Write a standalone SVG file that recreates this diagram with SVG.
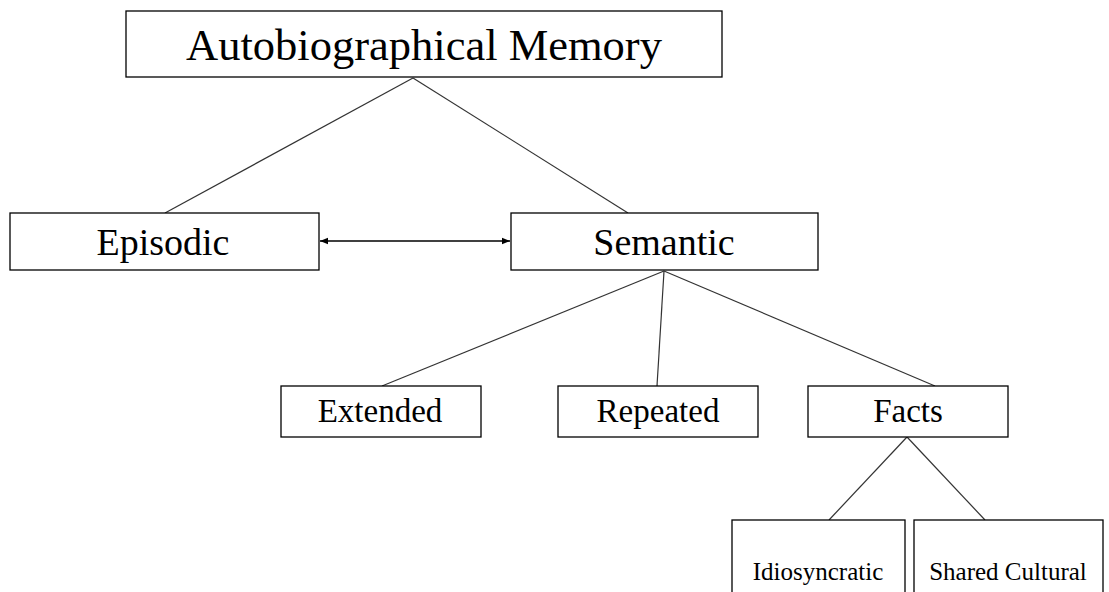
<svg xmlns="http://www.w3.org/2000/svg" width="1109" height="592" viewBox="0 0 1109 592">
<style>
.box{fill:#fff;stroke:#000;stroke-width:1.3}
.t{font-family:"Liberation Serif","Times New Roman",serif;fill:#000;text-anchor:middle}
.ln{stroke:#333;stroke-width:1.2;fill:none}
</style>
<defs>
<marker id="ah" viewBox="0 0 10 10" refX="10" refY="5" markerWidth="8" markerHeight="8" orient="auto-start-reverse" markerUnits="userSpaceOnUse">
<path d="M0,1 L10,5 L0,9 z" fill="#000"/>
</marker>
</defs>
<rect width="1109" height="592" fill="#fff"/>
<g id="connectors">
<line class="ln" x1="413" y1="78" x2="165" y2="213"/>
<line class="ln" x1="413" y1="78" x2="628" y2="213"/>
<line class="ln" x1="664" y1="271" x2="382" y2="386"/>
<line class="ln" x1="664" y1="271" x2="657" y2="386"/>
<line class="ln" x1="664" y1="271" x2="935" y2="386"/>
<line class="ln" x1="907" y1="437" x2="829" y2="520"/>
<line class="ln" x1="907" y1="437" x2="985" y2="520"/>
<line x1="320" y1="241" x2="510" y2="241" stroke="#000" stroke-width="1.4" marker-start="url(#ah)" marker-end="url(#ah)"/>
</g>
<g id="n-auto"><rect class="box" x="126" y="11" width="596" height="66"/><text class="t" x="424" y="60" font-size="44.5">Autobiographical Memory</text></g>
<g id="n-episodic"><rect class="box" x="10" y="213" width="309" height="57"/><text class="t" x="163" y="255" font-size="38">Episodic</text></g>
<g id="n-semantic"><rect class="box" x="511" y="213" width="307" height="57"/><text class="t" x="664" y="255" font-size="38">Semantic</text></g>
<g id="n-extended"><rect class="box" x="281" y="386" width="200" height="51"/><text class="t" x="380" y="422" font-size="33">Extended</text></g>
<g id="n-repeated"><rect class="box" x="558" y="386" width="200" height="51"/><text class="t" x="658" y="422" font-size="33">Repeated</text></g>
<g id="n-facts"><rect class="box" x="808" y="386" width="200" height="51"/><text class="t" x="908" y="422" font-size="33">Facts</text></g>
<g id="n-idio"><rect class="box" x="732" y="520" width="173" height="80"/><text class="t" x="818" y="580" font-size="25">Idiosyncratic</text></g>
<g id="n-shared"><rect class="box" x="914" y="520" width="189" height="80"/><text class="t" x="1008" y="580" font-size="25">Shared Cultural</text></g>
</svg>
